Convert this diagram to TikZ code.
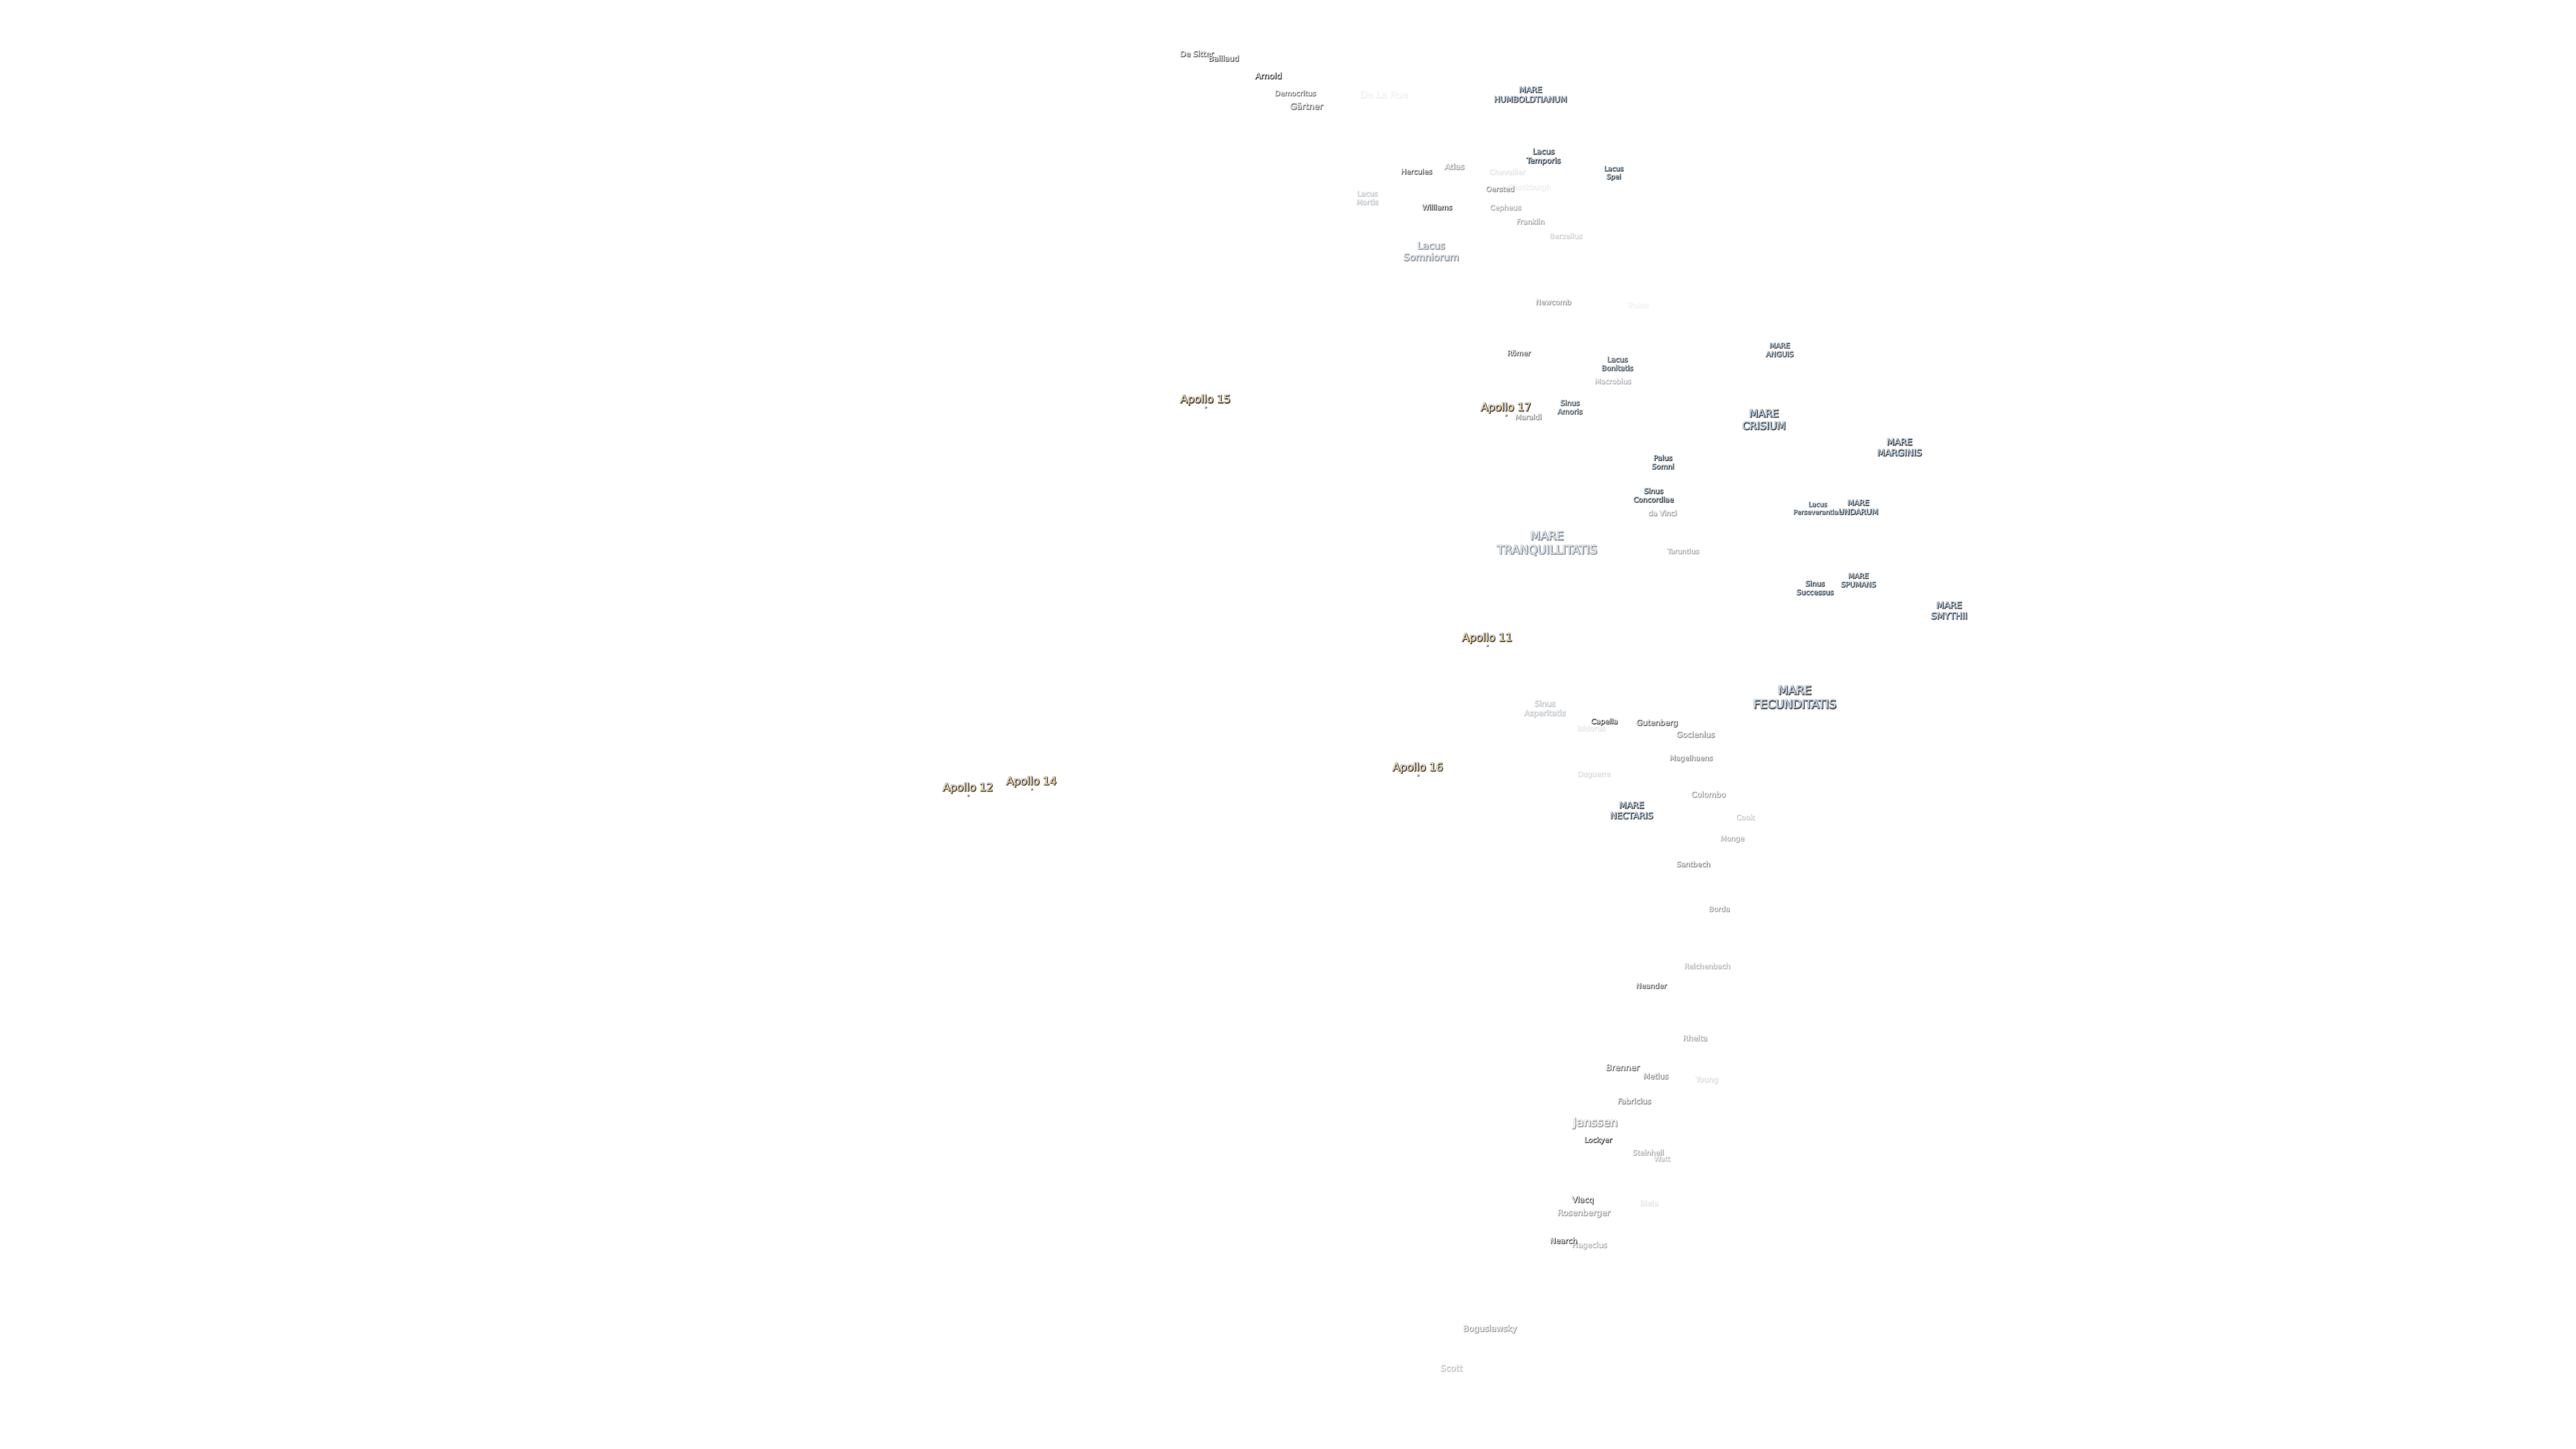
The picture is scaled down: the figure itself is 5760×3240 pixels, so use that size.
\documentclass[tikz,border=0pt]{standalone}
\usepackage{fontspec}
\setmainfont{DejaVu Sans}
\newfontfamily\halofont[FakeBold=16]{DejaVu Sans}
\newfontfamily\shfont[FakeBold=3]{DejaVu Sans}
\definecolor{seablue}{HTML}{C6E0F7}
\definecolor{tan}{HTML}{FADFA8}
\definecolor{shdw}{HTML}{505050}
\definecolor{halo}{HTML}{B0B0B0}
\tikzset{
  lab/.style={inner sep=0pt,align=center,anchor=center},
  dot/.style={circle,inner sep=0pt,minimum size=1.2pt,fill=tan,draw=none},
  dotsh/.style={circle,inner sep=0pt,minimum size=1.6pt,fill=shdw!70!white,draw=none}
}
\newcommand\setfs[1]{\fontsize{\fpeval{#1*0.28453}pt}{\fpeval{#1*0.28453*1.2}pt}\selectfont}
% name, x, y, size px, fill colour, opacity, text
\newcommand\lb[7]{%
  \edef\pc{\fpeval{round(#6*100)}}%
  \colorlet{cS}{shdw!\pc!white}\colorlet{cH}{halo!\pc!white}\colorlet{cM}{#5!\pc!white}%
  \node[lab,text=cH,font=\halofont\setfs{#4}] (#1-h) at ({#2+0.7},{#3+0.7}) {#7};
  \node[lab,text=cS,font=\shfont\setfs{#4}] (#1-s) at ({#2+1.5},{#3+1.5}) {#7};
  \node[lab,text=cM,font=\setfs{#4}] (#1) at (#2,#3) {#7};
}
\newcommand\apollo[4]{% name, x, text y, text
  \node[dotsh] (#1-ds) at ({#2+1.5},{#3+17.5}) {};
  \node[dot] (#1-d) at (#2,{#3+16}) {};
  \lb{#1}{#2}{#3}{24}{tan}{1}{#4}
}
\begin{document}
\begin{tikzpicture}[x=0.01cm,y=-0.01cm,line join=round]
\useasboundingbox (0,0) rectangle (5760,3240);
\fill[white] (0,0) rectangle (5760,3240);
\lb{desitter}{2676}{120}{17}{white}{.8}{De Sitter}
\lb{baillaud}{2736}{130}{17}{white}{.85}{Baillaud}
\lb{arnold}{2836}{169}{18.4}{white}{1}{Arnold}
\lb{democritus}{2896}{208}{16}{white}{.7}{Democritus}
\lb{delarue}{3094}{211}{21}{white}{.08}{De La Rue}
\lb{gartner}{2921}{237}{19}{white}{.7}{Gärtner}
\lb{humb}{3422}{211}{18}{seablue}{1}{MARE\\HUMBOLDTIANUM}
\lb{temporis}{3451}{350}{17}{seablue}{1}{Lacus\\Temporis}
\lb{atlas}{3252}{372}{17.8}{white}{.5}{Atlas}
\lb{hercules}{3167}{383}{16}{white}{.85}{Hercules}
\lb{chevallier}{3370}{384}{16}{white}{.15}{Chevallier}
\lb{spei}{3608}{387}{15}{seablue}{1}{Lacus\\Spei}
\lb{shuckburgh}{3419}{419}{16}{white}{.1}{Shuckburgh}
\lb{oersted}{3354}{422}{16}{white}{.6}{Oersted}
\lb{mortis}{3057}{442}{16}{seablue}{.3}{Lacus\\Mortis}
\lb{williams}{3213}{463}{16}{white}{.95}{Williams}
\lb{cepheus}{3366}{465}{16}{white}{.45}{Cepheus}
\lb{franklin}{3422}{495}{16}{white}{.45}{Franklin}
\lb{berzelius}{3501}{527}{16}{white}{.25}{Berzelius}
\lb{somniorum}{3200}{562}{21.5}{seablue}{.55}{Lacus\\Somniorum}
\lb{newcomb}{3473}{675}{16}{white}{.55}{Newcomb}
\lb{tralles}{3662}{682}{15}{white}{.07}{Tralles}
\lb{romer}{3396}{789}{16}{white}{.85}{Römer}
\lb{bonitatis}{3616}{813}{16}{seablue}{.95}{Lacus\\Bonitatis}
\lb{macrobius}{3606}{852}{16}{white}{.4}{Macrobius}
\lb{anguis}{3979}{782}{16}{seablue}{1}{MARE\\ANGUIS}
\lb{maraldi}{3417}{932}{16}{white}{.6}{Maraldi}
\lb{amoris}{3510}{910}{16}{seablue}{.9}{Sinus\\Amoris}
\lb{crisium}{3944}{938}{23}{seablue}{1}{MARE\\CRISIUM}
\lb{marginis}{4247}{1000}{20}{seablue}{1}{MARE\\MARGINIS}
\lb{somni}{3718}{1033}{16}{seablue}{1}{Palus\\Somni}
\lb{concordiae}{3697}{1107}{16}{seablue}{1}{Sinus\\Concordiae}
\lb{davinci}{3717}{1147}{16}{white}{.5}{da Vinci}
\lb{persev}{4064}{1136}{14.5}{seablue}{.95}{Lacus\\Perseverantiae}
\lb{undarum}{4155}{1134}{17}{seablue}{1}{MARE\\UNDARUM}
\lb{tranq}{3459}{1215}{26}{seablue}{.6}{MARE\\TRANQUILLITATIS}
\lb{taruntius}{3763}{1232}{15.5}{white}{.45}{Taruntius}
\lb{successus}{4058}{1314}{16}{seablue}{1}{Sinus\\Successus}
\lb{spumans}{4155}{1297}{16}{seablue}{1}{MARE\\SPUMANS}
\lb{smythii}{4358}{1365}{20}{seablue}{1}{MARE\\SMYTHII}
\lb{fecund}{4013}{1559}{26}{seablue}{.95}{MARE\\FECUNDITATIS}
\lb{asper}{3454}{1585}{17.4}{seablue}{.3}{Sinus\\Asperitatis}
\lb{isidorus}{3558}{1628}{16}{white}{.15}{Isidorus}
\lb{capella}{3587}{1614}{16}{white}{.95}{Capella}
\lb{gutenberg}{3705}{1617}{17.4}{white}{.8}{Gutenberg}
\lb{goclenius}{3791}{1642}{17.4}{white}{.55}{Goclenius}
\lb{magelhaens}{3781}{1696}{16}{white}{.6}{Magelhaens}
\lb{daguerre}{3564}{1732}{15.7}{white}{.2}{Daguerre}
\lb{colombo}{3820}{1776}{17.4}{white}{.5}{Colombo}
\lb{nectaris}{3648}{1812}{19.5}{seablue}{1}{MARE\\NECTARIS}
\lb{cook}{3902}{1827}{16.5}{white}{.3}{Cook}
\lb{monge}{3873}{1876}{16}{white}{.45}{Monge}
\lb{santbech}{3786}{1932}{16}{white}{.6}{Santbech}
\lb{borda}{3844}{2032}{16}{white}{.5}{Borda}
\lb{reichenbach}{3817}{2160}{16}{white}{.4}{Reichenbach}
\lb{neander}{3692}{2204}{16}{white}{.8}{Neander}
\lb{rheita}{3790}{2321}{17}{white}{.45}{Rheita}
\lb{brenner}{3628}{2387}{18.8}{white}{.7}{Brenner}
\lb{metius}{3702}{2406}{17}{white}{.6}{Metius}
\lb{young}{3816}{2415}{17}{white}{.2}{Young}
\lb{fabricius}{3654}{2462}{17}{white}{.6}{Fabricius}
\lb{janssen}{3567}{2512}{26}{white}{.5}{Janssen}
\lb{lockyer}{3573}{2550}{16}{white}{1}{Lockyer}
\lb{watt}{3716}{2591}{15.5}{white}{.35}{Watt}
\lb{steinheil}{3685}{2577}{16}{white}{.45}{Steinheil}
\lb{vlacq}{3539}{2684}{17.5}{white}{.9}{Vlacq}
\lb{biela}{3687}{2690}{17}{white}{.15}{Biela}
\lb{rosenberger}{3541}{2713}{18.6}{white}{.5}{Rosenberger}
\lb{hagecius}{3554}{2785}{17}{white}{.4}{Hagecius}
\lb{nearch}{3496}{2774}{17}{white}{.9}{Nearch}
\lb{boguslawsky}{3331}{2972}{18.6}{white}{.5}{Boguslawsky}
\lb{scott}{3245}{3059}{19}{white}{.35}{Scott}
\apollo{a15}{2695}{894}{Apollo 15}
\apollo{a17}{3367}{912}{Apollo 17}
\apollo{a11}{3325}{1427}{Apollo 11}
\apollo{a16}{3170}{1717}{Apollo 16}
\apollo{a12}{2164}{1762}{Apollo 12}
\apollo{a14}{2306}{1748}{Apollo 14}
\end{tikzpicture}
\end{document}
